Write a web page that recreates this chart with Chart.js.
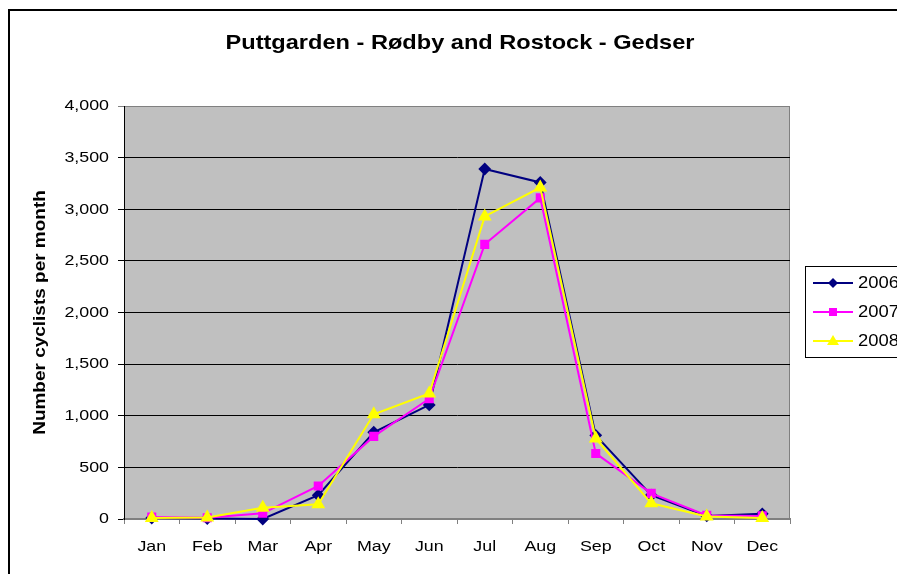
<!DOCTYPE html>
<html>
<head>
<meta charset="utf-8">
<script src="https://cdn.jsdelivr.net/npm/chart.js@4/dist/chart.umd.min.js"></script>
<style>
html,body{margin:0;padding:0;background:#fff;}
canvas{display:block;}
</style>
</head>
<body>
<canvas id="c" width="897" height="574"></canvas>
<script>
const chartTitle = "Puttgarden - Rødby and Rostock - Gedser";
const yAxisTitle = "Number cyclists per month";
const months = ["Jan","Feb","Mar","Apr","May","Jun","Jul","Aug","Sep","Oct","Nov","Dec"];
const seriesNames = ["2006","2007","2008"];
const values2006 = [10, 5, 0, 230, 840, 1105, 3390, 3260, 810, 230, 30, 50];
const values2007 = [20, 12, 55, 320, 800, 1165, 2660, 3110, 635, 248, 35, 30];
const values2008 = [10, 15, 110, 142, 1015, 1215, 2930, 3210, 780, 152, 25, 10];
const yMin = 0, yMax = 4000, yStep = 500;

const FONT = "'Liberation Sans', Arial, sans-serif";

// The reference text is slightly stretched horizontally; reproduce that when drawing text.
const TEXT_STRETCH = 1.15;
const _origFillText = CanvasRenderingContext2D.prototype.fillText;
CanvasRenderingContext2D.prototype.fillText = function (t, x, y, mw) {
  this.save();
  this.translate(x, y);
  this.scale(TEXT_STRETCH, 1);
  if (mw === undefined) _origFillText.call(this, t, 0, 0);
  else _origFillText.call(this, t, 0, 0, mw / TEXT_STRETCH);
  this.restore();
};

const decor = {
  id: 'decor',
  beforeDraw(chart) {
    const {ctx, chartArea: a} = chart;
    ctx.save();
    ctx.fillStyle = '#fff';
    ctx.fillRect(0, 0, chart.width, chart.height);
    ctx.strokeStyle = '#000';
    ctx.lineWidth = 2;
    ctx.strokeRect(9, 10, 900, 600);
    ctx.fillStyle = '#C0C0C0';
    ctx.fillRect(a.left, a.top, a.right - a.left, a.bottom - a.top);
    ctx.strokeStyle = '#808080';
    ctx.lineWidth = 1;
    ctx.strokeRect(a.left + 0.5, a.top + 0.5, a.right - a.left - 1, a.bottom - a.top);
    ctx.fillStyle = '#000';
    ctx.font = "bold 20.5px " + FONT;
    ctx.textAlign = 'center';
    ctx.textBaseline = 'middle';
    ctx.fillText(chartTitle, 460, 43);
    ctx.restore();
  },
  afterDraw(chart) {
    const {ctx} = chart;
    ctx.save();
    const bx = 805.5, by = 266.5, bw = 120, bh = 91;
    ctx.fillStyle = '#fff';
    ctx.fillRect(bx, by, bw, bh);
    ctx.strokeStyle = '#000';
    ctx.lineWidth = 1;
    ctx.strokeRect(bx, by, bw, bh);
    const rows = [283, 312, 341];
    chart.data.datasets.forEach((ds, i) => {
      const y = rows[i];
      ctx.strokeStyle = ds.borderColor;
      ctx.lineWidth = 2;
      ctx.beginPath();
      ctx.moveTo(813, y);
      ctx.lineTo(853, y);
      ctx.stroke();
      ctx.fillStyle = ds.pointBackgroundColor;
      const cx = 833;
      ctx.beginPath();
      if (ds.pointStyle === 'rectRot') {
        ctx.moveTo(cx, y - 5); ctx.lineTo(cx + 5, y); ctx.lineTo(cx, y + 5); ctx.lineTo(cx - 5, y);
      } else if (ds.pointStyle === 'rect') {
        ctx.rect(cx - 4, y - 4, 8, 8);
      } else {
        ctx.moveTo(cx, y - 6); ctx.lineTo(cx + 6, y + 4); ctx.lineTo(cx - 6, y + 4);
      }
      ctx.closePath();
      ctx.fill();
      ctx.fillStyle = '#000';
      ctx.font = "16px " + FONT;
      ctx.textAlign = 'left';
      ctx.textBaseline = 'middle';
      ctx.fillText(ds.label, 858, y + 1);
    });
    ctx.restore();
  }
};

new Chart(document.getElementById('c'), {
  type: 'line',
  data: {
    labels: months,
    datasets: [
      {label: seriesNames[0], data: values2006, borderColor: '#000080', backgroundColor: '#000080',
       pointBackgroundColor: '#000080', pointBorderColor: '#000080', pointStyle: 'rectRot',
       pointRadius: 5, borderWidth: 2, order: 3, clip: false},
      {label: seriesNames[1], data: values2007, borderColor: '#FF00FF', backgroundColor: '#FF00FF',
       pointBackgroundColor: '#FF00FF', pointBorderColor: '#FF00FF', pointStyle: 'rect',
       pointRadius: 5, borderWidth: 2, order: 2, clip: false},
      {label: seriesNames[2], data: values2008, borderColor: '#FFFF00', backgroundColor: '#FFFF00',
       pointBackgroundColor: '#FFFF00', pointBorderColor: '#FFFF00', pointStyle: 'triangle',
       pointRadius: 6, borderWidth: 2, order: 1, clip: false}
    ]
  },
  options: {
    responsive: false,
    animation: false,
    layout: {padding: {left: 0, top: 106, right: 107, bottom: 0}},
    plugins: {legend: {display: false}, title: {display: false}, tooltip: {enabled: false}},
    elements: {line: {tension: 0}},
    scales: {
      x: {
        offset: true,
        grid: {display: true, drawOnChartArea: false, drawTicks: true, tickLength: 5, color: '#808080', offset: true},
        border: {display: true, color: '#808080', width: 2},
        ticks: {color: '#000', font: {family: FONT, size: 15.5}, padding: 13, maxRotation: 0, autoSkip: false},
        afterFit(s) { s.height = 55; }
      },
      y: {
        min: yMin, max: yMax,
        grid: {color: (c) => c.tick && c.tick.value === yMax ? '#808080' : '#000', tickLength: 6, lineWidth: 1},
        border: {display: true, color: '#000', width: 1},
        ticks: {stepSize: yStep, color: '#000', font: {family: FONT, size: 15.5}, padding: 9,
                callback: (v) => v.toLocaleString('en-US')},
        title: {display: true, text: yAxisTitle, color: '#000', font: {family: FONT, size: 16.5, weight: 'bold'}, padding: {top: 31, bottom: 0}},
        afterFit(s) { s.width = 124; }
      }
    }
  },
  plugins: [decor]
});
</script>
</body>
</html>
